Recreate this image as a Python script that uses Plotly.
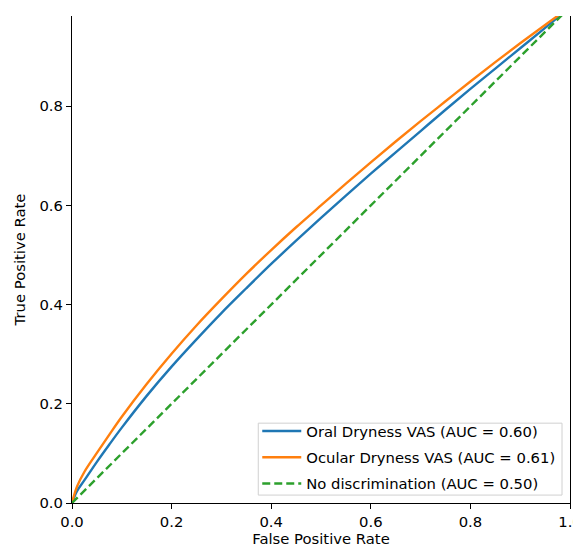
import plotly.graph_objects as go

# FPR grid
fpr = [0, 0.01, 0.025, 0.05, 0.075, 0.1, 0.15, 0.2, 0.25, 0.3, 0.35, 0.4, 0.45,
       0.5, 0.55, 0.6, 0.65, 0.7, 0.75, 0.8, 0.85, 0.9, 0.95, 1.0]
# Oral Dryness VAS TPR
tpr_oral = [0, 0.024, 0.046, 0.083, 0.118, 0.152, 0.216, 0.275, 0.330, 0.383, 0.433,
            0.482, 0.529, 0.575, 0.620, 0.664, 0.707, 0.750, 0.793, 0.835, 0.876,
            0.917, 0.958, 1.0]
# Ocular Dryness VAS TPR
tpr_ocular = [0, 0.033, 0.063, 0.101, 0.138, 0.174, 0.240, 0.301, 0.358, 0.411, 0.462,
              0.510, 0.556, 0.600, 0.644, 0.687, 0.729, 0.770, 0.810, 0.850, 0.889,
              0.927, 0.964, 1.0]
diag_x = [0, 1]
diag_y = [0, 1]

names = ["Oral Dryness VAS (AUC = 0.60)",
         "Ocular Dryness VAS (AUC = 0.61)",
         "No discrimination (AUC = 0.50)"]
tick_vals = [0.0, 0.2, 0.4, 0.6, 0.8, 1.0]
tick_text = ["0.0", "0.2", "0.4", "0.6", "0.8", "1.0"]

FONT = "DejaVu Sans"
FS = 14.8

fig = go.Figure()
fig.add_trace(go.Scatter(x=fpr, y=tpr_oral, mode="lines", name=names[0], legendgroup="a",
                         line=dict(color="#1f77b4", width=2.4, shape="spline", smoothing=1.0)))
fig.add_trace(go.Scatter(x=fpr, y=tpr_ocular, mode="lines", name=names[1], legendgroup="b",
                         line=dict(color="#ff7f0e", width=2.4, shape="spline", smoothing=1.0)))
fig.add_trace(go.Scatter(x=diag_x, y=diag_y, mode="lines", name=names[2], legendgroup="c",
                         line=dict(color="#2ca02c", width=2.4, dash="8px,4px")))

# legend frame (matplotlib-like box)
fig.add_shape(type="rect", xref="x", yref="y", x0=0.374, x1=0.984, y0=0.016, y1=0.161,
              line=dict(color="#d0d0d0", width=1), fillcolor="rgba(255,255,255,0.8)",
              layer="below")

# page body has an 8px margin; the figure is offset accordingly
fig.update_layout(
    width=573, height=549,
    margin=dict(l=63.5, r=11, t=8, b=54),
    paper_bgcolor="white", plot_bgcolor="white",
    font=dict(family=FONT, size=FS, color="black"),
    showlegend=True,
    legend=dict(x=0.372, y=0.181, xanchor="left", yanchor="top",
                bgcolor="rgba(0,0,0,0)", borderwidth=0,
                font=dict(family=FONT, size=FS, color="black"),
                tracegroupgap=4, itemwidth=39),
)
fig.update_xaxes(range=[0, 1.0], tickvals=tick_vals, ticktext=tick_text,
                 showgrid=False, zeroline=False, showline=True, linecolor="black",
                 linewidth=1.2, ticks="outside", ticklen=5, tickwidth=1.2, tickcolor="black",
                 tickfont=dict(family=FONT, size=FS, color="black"),
                 ticklabeloverflow="allow",
                 title=dict(text="False Positive Rate", standoff=4,
                            font=dict(family=FONT, size=FS, color="black")),
                 automargin=False)
fig.update_yaxes(range=[0, 0.982], tickvals=tick_vals[:-1], ticktext=tick_text[:-1],
                 showgrid=False, zeroline=False, showline=True, linecolor="black",
                 linewidth=1.2, mirror=True, ticks="outside", ticklen=5, tickwidth=1.2,
                 tickcolor="black",
                 tickfont=dict(family=FONT, size=FS, color="black"),
                 title=dict(text="True Positive Rate", standoff=10,
                            font=dict(family=FONT, size=FS, color="black")),
                 automargin=False)

fig.write_html("out.html")
